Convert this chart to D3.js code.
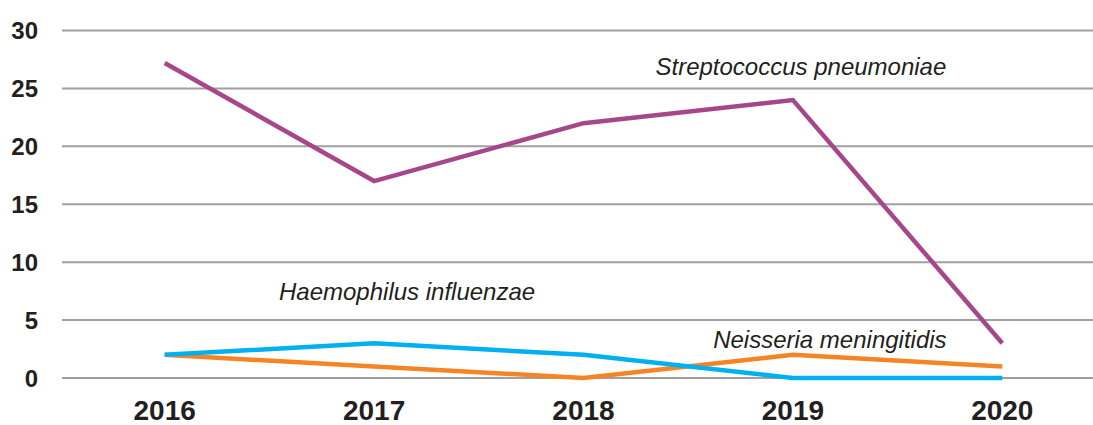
<!DOCTYPE html>
<html>
<head>
<meta charset="utf-8">
<script src="https://cdn.jsdelivr.net/npm/d3@7"></script>
<style>
  body { margin: 0; background: #fff; }
  svg { display: block; font-family: "Liberation Sans", Arial, sans-serif; }
</style>
</head>
<body>
<svg id="chart" width="1093" height="425"></svg>
<script>
// data
let years = ['2016', '2017', '2018', '2019', '2020'];
let strepValues = [27.2, 17, 22, 24, 3];
let haemValues = [2, 3, 2, 0, 0];
let neissValues = [2, 1, 0, 2, 1];
let yTicks = [0, 5, 10, 15, 20, 25, 30];

let seriesList = [
  { name: 'Streptococcus pneumoniae', values: strepValues, color: '#a5478a', labelYear: '2019', labelValue: 26.2, dx: 8 },
  { name: 'Haemophilus influenzae', values: haemValues, color: '#00b0f0', labelYear: '2017', labelValue: 6.7, dx: 33 },
  { name: 'Neisseria meningitidis', values: neissValues, color: '#f58426', labelYear: '2019', labelValue: 2.6, dx: 37 }
];

let svg = d3.select('#chart');
let width = 1093;

let x = d3.scaleBand().domain(years).range([60, 1107]);
let y = d3.scaleLinear().domain([0, 30]).range([378, 30.5]);

// gridlines
svg.append('g')
  .selectAll('line')
  .data(yTicks)
  .enter()
  .append('line')
  .attr('x1', 62)
  .attr('x2', width)
  .attr('y1', (d) => y(d))
  .attr('y2', (d) => y(d))
  .attr('stroke', '#a0a0a2')
  .attr('stroke-width', 2);

// y tick labels
svg.append('g')
  .selectAll('text')
  .data(yTicks)
  .enter()
  .append('text')
  .attr('x', 38)
  .attr('y', (d) => y(d))
  .attr('dy', '0.36em')
  .attr('text-anchor', 'end')
  .attr('font-size', 24)
  .attr('font-weight', 'bold')
  .attr('fill', '#231f20')
  .text((d) => d);

// x labels
svg.append('g')
  .selectAll('text')
  .data(years)
  .enter()
  .append('text')
  .attr('x', (d) => x(d) + x.bandwidth() / 2)
  .attr('y', 420)
  .attr('text-anchor', 'middle')
  .attr('font-size', 28)
  .attr('font-weight', 'bold')
  .attr('fill', '#231f20')
  .text((d) => d);

let line = d3.line()
  .x((d, i) => x(years[i]) + x.bandwidth() / 2)
  .y((d) => y(d));

// draw orange first, then blue, then purple on top
let drawOrder = [seriesList[2], seriesList[1], seriesList[0]];
svg.append('g')
  .selectAll('path')
  .data(drawOrder)
  .enter()
  .append('path')
  .attr('d', (s) => line(s.values))
  .attr('fill', 'none')
  .attr('stroke', (s) => s.color)
  .attr('stroke-width', 4.5)
  .attr('stroke-linejoin', 'miter');

// series labels
svg.append('g')
  .selectAll('text')
  .data(seriesList)
  .enter()
  .append('text')
  .attr('x', (s) => x(s.labelYear) + x.bandwidth() / 2 + s.dx)
  .attr('y', (s) => y(s.labelValue))
  .attr('text-anchor', 'middle')
  .attr('font-size', 24)
  .attr('font-style', 'italic')
  .attr('fill', '#231f20')
  .text((s) => s.name);
</script>
</body>
</html>
